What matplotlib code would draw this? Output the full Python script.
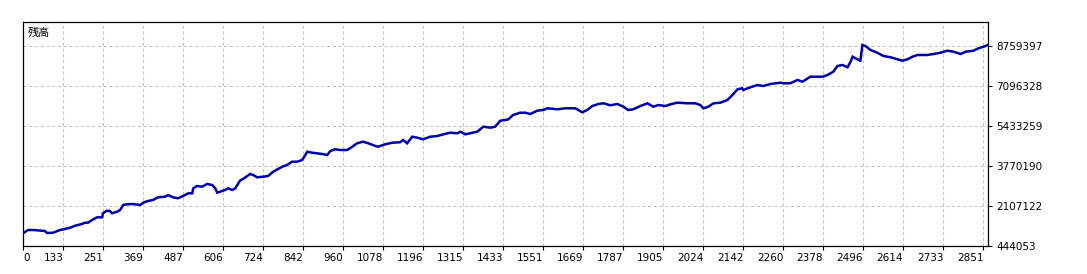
import matplotlib
matplotlib.use('Agg')
import matplotlib.pyplot as plt

# balance curve (trade number, balance)
trades = [14, 29, 44, 79, 85, 103, 123, 138, 153, 168, 188, 197, 206, 218, 233, 248, 250,
          262, 271, 277, 292, 301, 310, 321, 339, 360, 369, 383, 398, 413, 434, 443, 457,
          472, 487, 502, 514, 517, 528, 543, 558, 573, 582, 588, 596, 611, 620, 632, 641,
          655, 667, 685, 694, 706, 723, 738, 753, 780, 794, 809, 824, 839, 854, 868, 898,
          913, 922, 936, 951, 972, 987, 1001, 1019, 1034, 1055, 1063, 1084, 1105, 1128,
          1137, 1149, 1164, 1179, 1196, 1217, 1238, 1256, 1276, 1297, 1306, 1321, 1335,
          1356, 1374, 1395, 1409, 1424, 1439, 1448, 1462, 1483, 1498, 1513, 1533, 1551,
          1563, 1593, 1616, 1646, 1666, 1681, 1696, 1714, 1729, 1749, 1770, 1788, 1802,
          1817, 1838, 1859, 1876, 1891, 1912, 1927, 1947, 1977, 2000, 2015, 2024, 2039,
          2054, 2074, 2095, 2110, 2125, 2139, 2142, 2163, 2184, 2201, 2222, 2252, 2261,
          2281, 2302, 2317, 2340, 2376, 2391, 2408, 2420, 2435, 2450, 2459, 2465, 2479,
          2488, 2494, 2503, 2518, 2538, 2556, 2577, 2598, 2612, 2627, 2642, 2657, 2686,
          2704, 2725, 2745, 2763, 2784, 2799, 2822, 2837, 2858, 2864]
balance = [972000, 1109000, 1109000, 1068000, 985000, 997000, 1109000, 1151000, 1205000,
           1288000, 1359000, 1413000, 1413000, 1525000, 1637000, 1637000, 1804000, 1912000,
           1899000, 1804000, 1870000, 1941000, 2149000, 2178000, 2190000, 2149000, 2244000,
           2315000, 2357000, 2469000, 2494000, 2564000, 2469000, 2427000, 2523000, 2635000,
           2635000, 2843000, 2939000, 2910000, 3022000, 2980000, 2843000, 2660000, 2702000,
           2772000, 2843000, 2772000, 2843000, 3159000, 3259000, 3438000, 3396000, 3300000,
           3325000, 3354000, 3533000, 3741000, 3812000, 3949000, 3949000, 4020000, 4365000,
           4323000, 4269000, 4228000, 4394000, 4465000, 4435000, 4435000, 4573000, 4714000,
           4781000, 4714000, 4602000, 4573000, 4672000, 4739000, 4756000, 4851000, 4714000,
           4988000, 4947000, 4880000, 4988000, 5018000, 5088000, 5155000, 5130000, 5196000,
           5088000, 5130000, 5196000, 5404000, 5363000, 5404000, 5654000, 5683000, 5712000,
           5891000, 5986000, 5986000, 5932000, 6069000, 6099000, 6169000, 6128000, 6169000,
           6169000, 6003000, 6099000, 6265000, 6348000, 6377000, 6294000, 6348000, 6236000,
           6099000, 6128000, 6265000, 6377000, 6236000, 6306000, 6265000, 6336000, 6402000,
           6377000, 6377000, 6306000, 6169000, 6236000, 6377000, 6402000, 6514000, 6722000,
           6959000, 7001000, 6930000, 7042000, 7138000, 7096000, 7180000, 7234000, 7209000,
           7209000, 7346000, 7275000, 7483000, 7483000, 7554000, 7691000, 7928000, 7969000,
           7874000, 8107000, 8315000, 8206000, 8148000, 8801000, 8759000, 8593000, 8481000,
           8344000, 8290000, 8206000, 8148000, 8206000, 8315000, 8385000, 8385000, 8427000,
           8481000, 8564000, 8522000, 8427000, 8522000, 8564000, 8664000, 8759000, 8800000]

xticks = [14, 133, 251, 369, 487, 606, 724, 842, 960, 1078, 1196, 1315, 1433, 1551, 1669,
          1787, 1905, 2024, 2142, 2260, 2378, 2496, 2614, 2733, 2851]
xlabels = ['0'] + [str(t) for t in xticks[1:]]
yticks = [444053, 2107122, 3770190, 5433259, 7096328, 8759397]

plt.rcParams['font.family'] = ['DejaVu Sans']
fig = plt.figure(figsize=(10.87, 2.74), dpi=100)
ax = fig.add_axes([23/1087, 28/274, 965/1087, 224/274])

ax.plot(trades, balance, color='#0000aa', lw=1.8, solid_joinstyle='miter', zorder=3)

ax.set_xlim(14, 2865)
ax.set_ylim(444053, 444053 + 5.6 * 1663069)
ax.set_xticks(xticks)
ax.set_xticklabels(xlabels, fontsize=7.5, ha='right')
ax.get_xticklabels()[0].set_ha('left')
ax.set_yticks(yticks)
ax.set_yticklabels([str(v) for v in yticks], fontsize=7.5)
ax.yaxis.tick_right()
ax.tick_params(axis='both', direction='out', length=3, width=0.8, color='black', pad=2)
ax.tick_params(axis='y', pad=3)

ax.grid(True, color='#c4c4c4', lw=0.75, linestyle=(0, (3, 2.5)))
for s in ax.spines.values():
    s.set_linewidth(0.9)
    s.set_color('black')

ax.text(0.005, 0.975, '残高', transform=ax.transAxes, ha='left', va='top',
        fontsize=8, family=['Noto Sans CJK JP', 'DejaVu Sans'])

fig.savefig('out.png', dpi=100, facecolor='white')
